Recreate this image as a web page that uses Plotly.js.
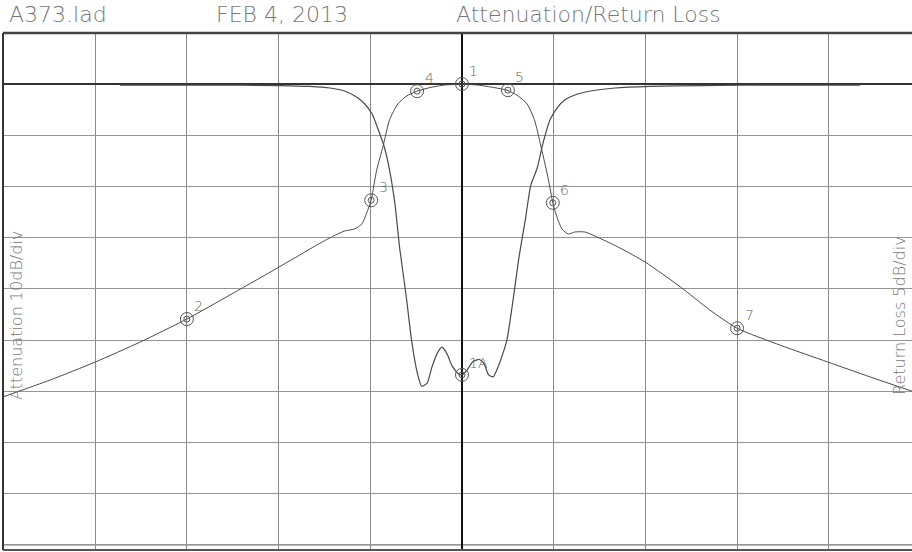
<!DOCTYPE html>
<html>
<head>
<meta charset="utf-8">
<script src="https://cdn.plot.ly/plotly-3.0.1.min.js"></script>
<style>html,body{margin:0;padding:0;background:#fff;}#chart{width:912px;height:552px;}</style>
</head>
<body>
<div id="chart"></div>
<script>
// Frequency in divisions from centre, attenuation in dB (10 dB/div)
const s21Freq = [-5.005,-4.49,-4.00,-3.51,-3.00,-2.53,-2.01,-1.77,-1.55,-1.38,-1.28,-1.17,-1.09,-1.04,-0.99,-0.96,-0.93,-0.86,-0.79,-0.70,-0.60,-0.49,-0.35,-0.19,0,0.17,0.35,0.49,0.61,0.71,0.79,0.86,0.92,0.96,0.99,1.04,1.09,1.16,1.23,1.34,1.50,1.72,2.00,2.38,2.70,3.00,3.47,3.99,4.45,4.91];
const s21Atten = [-61.1,-57.8,-54.3,-50.4,-45.9,-41.2,-35.9,-33.4,-31.1,-29.5,-28.7,-28.3,-27.3,-25.2,-22.7,-19.7,-16.8,-12.1,-7.0,-3.9,-2.3,-1.4,-0.7,-0.2,-0.05,-0.2,-0.7,-1.2,-2.3,-3.9,-7.0,-12.1,-16.8,-20.3,-23.2,-26.2,-28.3,-29.3,-28.9,-28.9,-30.1,-32.0,-34.8,-39.6,-44.1,-47.7,-51.0,-54.3,-57.2,-60.0];

// Return loss in dB (5 dB/div)
const s11Freq = [-3.73,-2.86,-1.98,-1.66,-1.44,-1.28,-1.15,-1.06,-0.98,-0.92,-0.85,-0.79,-0.73,-0.68,-0.61,-0.55,-0.49,-0.44,-0.38,-0.33,-0.27,-0.22,-0.16,-0.11,-0.04,0,0.05,0.12,0.19,0.24,0.29,0.34,0.39,0.45,0.49,0.56,0.62,0.69,0.75,0.82,0.88,0.96,1.04,1.12,1.23,1.40,1.67,2.05,2.60,3.47,4.34];
const s11RL = [-0.1,-0.1,-0.15,-0.24,-0.39,-0.68,-1.27,-1.95,-2.93,-4.30,-6.05,-8.40,-11.8,-16.0,-20.6,-25.0,-28.1,-29.5,-29.2,-27.7,-26.3,-25.7,-26.4,-27.5,-28.3,-28.4,-28.0,-27.1,-26.9,-27.3,-28.4,-28.6,-27.7,-26.2,-25.0,-20.9,-17.0,-13.3,-9.9,-8.2,-5.9,-3.5,-2.3,-1.56,-1.07,-0.68,-0.39,-0.24,-0.15,-0.1,-0.1];

// Markers
const attMarkerLabels = ["1","2","3","4","5","6","7"];
const attMarkerFreq = [0,-3.0,-0.99,-0.49,0.50,0.99,3.0];
const attMarkerVal = [0,-45.9,-22.7,-1.4,-1.2,-23.2,-47.7];
const rlMarkerLabels = ["1A"];
const rlMarkerFreq = [0];
const rlMarkerVal = [-28.4];

// Header texts
const headerTexts = ["A373.lad","FEB 4, 2013","Attenuation/Return Loss"];
const leftAxisLabel = "Attenuation 10dB/div";
const rightAxisLabel = "Return Loss 5dB/div";

const lineCol = '#4a4a4a';
const traces = [
  {x:s21Freq, y:s21Atten, type:'scatter', mode:'lines', line:{color:lineCol, width:1, shape:'spline', smoothing:0.6}, yaxis:'y', hoverinfo:'skip'},
  {x:s11Freq, y:s11RL, type:'scatter', mode:'lines', line:{color:lineCol, width:1.2, shape:'spline', smoothing:0.6}, yaxis:'y2', hoverinfo:'skip'},
  {x:attMarkerFreq, y:attMarkerVal, type:'scatter', mode:'markers', marker:{symbol:'circle-open', size:13, color:'#555', line:{width:1, color:'#555'}}, yaxis:'y', cliponaxis:false},
  {x:attMarkerFreq, y:attMarkerVal, type:'scatter', mode:'markers', marker:{symbol:'circle-open', size:6, color:'#555', line:{width:1, color:'#555'}}, yaxis:'y', cliponaxis:false},
  {x:rlMarkerFreq, y:rlMarkerVal, type:'scatter', mode:'markers', marker:{symbol:'circle-open', size:13, color:'#555', line:{width:1, color:'#555'}}, yaxis:'y2', cliponaxis:false},
  {x:rlMarkerFreq, y:rlMarkerVal, type:'scatter', mode:'markers', marker:{symbol:'circle-open', size:6, color:'#555', line:{width:1, color:'#555'}}, yaxis:'y2', cliponaxis:false}
];

const txtFont = {family:'DejaVu Sans', size:14, color:'#666', weight:200};
const annotations = [];
attMarkerLabels.forEach((t,i)=>{
  annotations.push({x:attMarkerFreq[i], y:attMarkerVal[i], xref:'x', yref:'y', text:t, showarrow:false, xshift:12, yshift:13, font:txtFont});
});
rlMarkerLabels.forEach((t,i)=>{
  annotations.push({x:rlMarkerFreq[i], y:rlMarkerVal[i], xref:'x', yref:'y2', text:t, showarrow:false, xshift:17, yshift:12, font:txtFont});
});
const headFont = {family:'DejaVu Sans', size:22, color:'#777', weight:200};
const headX = [4, 212, 452];
headerTexts.forEach((t,i)=>{
  annotations.push({x:headX[i]/912, y:1, xref:'paper', yref:'paper', text:t, showarrow:false, xanchor:'left', yanchor:'bottom', yshift:4, font:headFont});
});
annotations.push({x:0, y:0.5, xref:'paper', yref:'paper', text:leftAxisLabel, textangle:-90, showarrow:false, xanchor:'left', xshift:2, yshift:-24, font:{family:'DejaVu Sans', size:16, color:'#777', weight:200}});
annotations.push({x:1, y:0.5, xref:'paper', yref:'paper', text:rightAxisLabel, textangle:-90, showarrow:false, xanchor:'right', xshift:-1, yshift:-24, font:{family:'DejaVu Sans', size:16, color:'#777', weight:200}});

const layout = {
  width:912, height:552,
  margin:{l:3, r:0, t:33, b:2, pad:0},
  paper_bgcolor:'#fff', plot_bgcolor:'#fff',
  showlegend:false,
  xaxis:{range:[-5.005,4.907], tick0:0, dtick:1, showgrid:true, gridcolor:'#8a8a8a', gridwidth:1, zeroline:true, zerolinecolor:'#111', zerolinewidth:1.5, showticklabels:false, ticks:'', showline:false, fixedrange:true},
  yaxis:{range:[-91.0,9.96], tick0:0, dtick:10, showgrid:true, gridcolor:'#959595', gridwidth:1, zeroline:true, zerolinecolor:'#333', zerolinewidth:2, showticklabels:false, ticks:'', showline:false, fixedrange:true},
  yaxis2:{range:[-45.5,4.98], overlaying:'y', side:'right', showgrid:false, zeroline:false, showticklabels:false, ticks:'', showline:false, fixedrange:true},
  shapes:[
    {type:'line', xref:'paper', yref:'paper', x0:0, x1:1, y0:1, y1:1, line:{color:'#444', width:2.5}},
    {type:'line', xref:'paper', yref:'paper', x0:0, x1:0, y0:0, y1:1, line:{color:'#333', width:2}},
    {type:'line', xref:'paper', yref:'paper', x0:0, x1:1, y0:0, y1:0, line:{color:'#555', width:2}},
    {type:'line', xref:'paper', yref:'y', x0:0, x1:1, y0:-90, y1:-90, line:{color:'#bbb', width:2}, layer:'below'}
  ],
  annotations:annotations
};
Plotly.newPlot('chart', traces, layout, {displayModeBar:false, staticPlot:true});
</script>
</body>
</html>
